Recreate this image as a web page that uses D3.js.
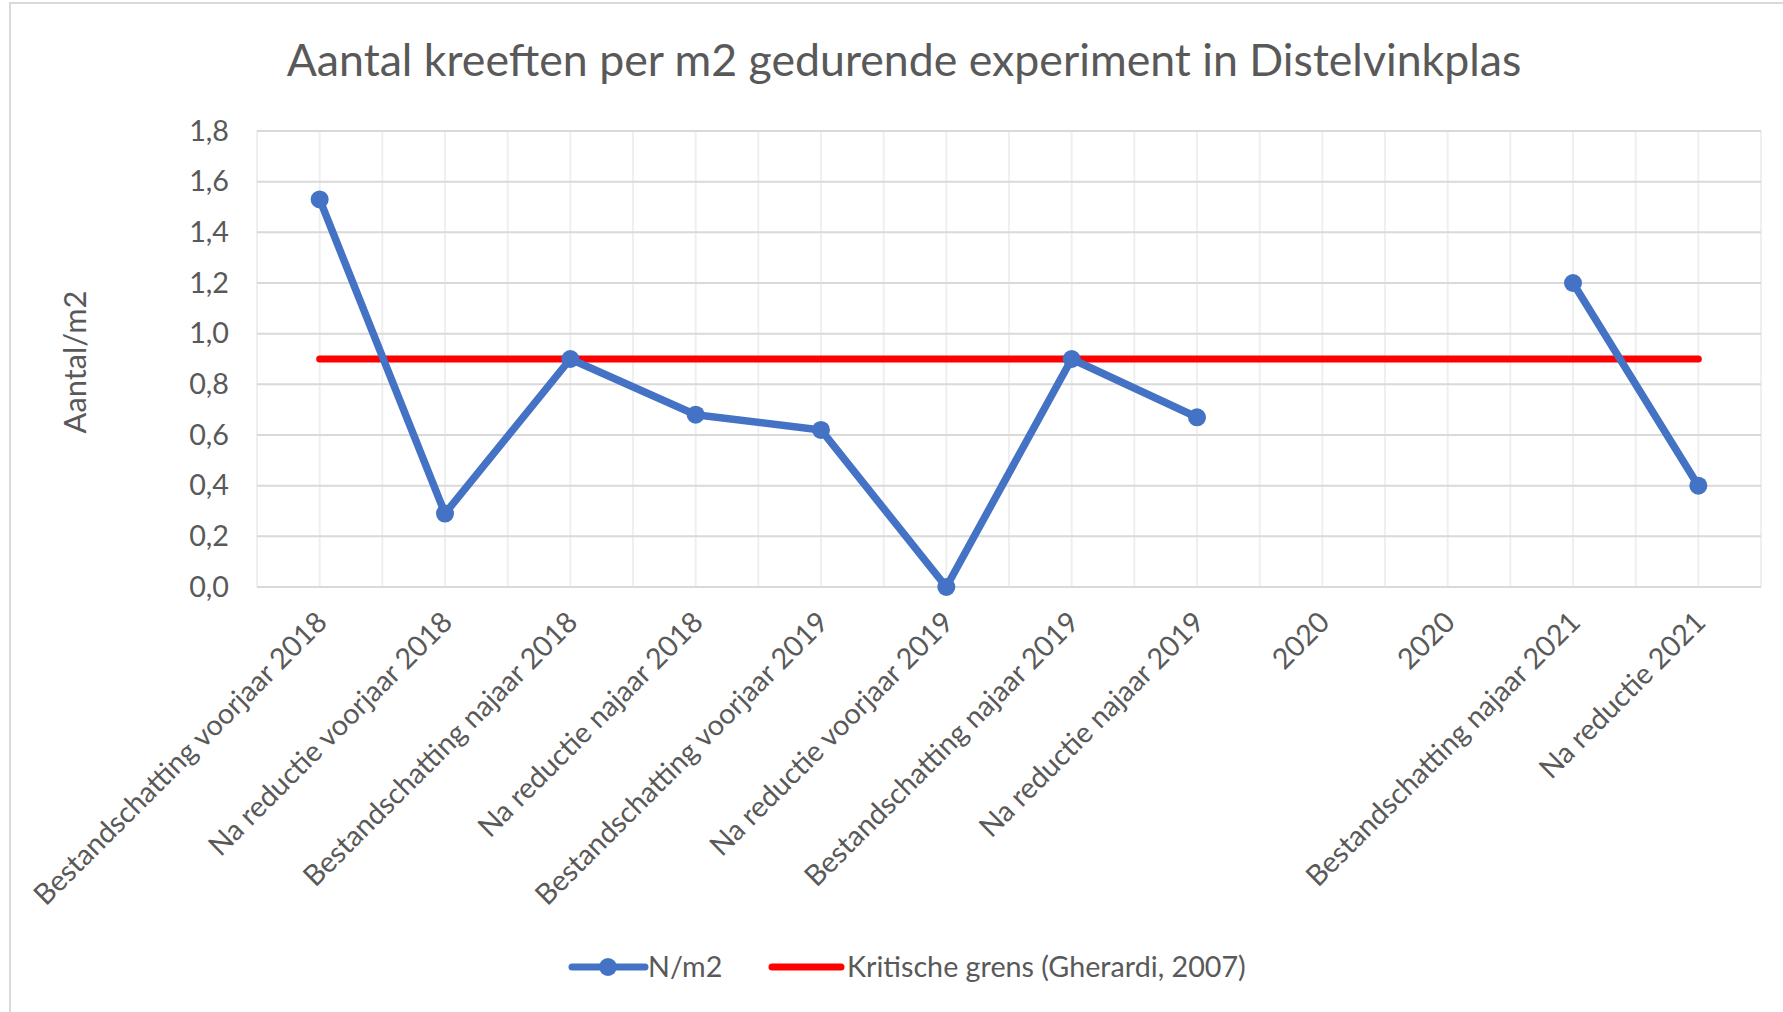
<!DOCTYPE html>
<html>
<head>
<meta charset="utf-8">
<script src="https://cdn.jsdelivr.net/npm/d3@7"></script>
<style>
  body { margin: 0; background: #fff; }
  svg text { font-family: Lato, "Open Sans", sans-serif; fill: #595959; }
</style>
</head>
<body>
<div id="chart"></div>
<script>
// categorieen op de x-as
const categories = [
  "Bestandschatting voorjaar 2018",
  "Na reductie voorjaar 2018",
  "Bestandschatting najaar 2018",
  "Na reductie najaar 2018",
  "Bestandschatting voorjaar 2019",
  "Na reductie voorjaar 2019",
  "Bestandschatting najaar 2019",
  "Na reductie najaar 2019",
  "2020",
  "2020",
  "Bestandschatting najaar 2021",
  "Na reductie 2021"
];
// aantal kreeften per m2 (null = geen meting)
const nPerM2 = [1.53, 0.29, 0.90, 0.68, 0.62, 0.00, 0.90, 0.67, null, null, 1.20, 0.40];
// kritische grens (Gherardi, 2007)
const kritisch = [0.9, 0.9, 0.9, 0.9, 0.9, 0.9, 0.9, 0.9, 0.9, 0.9, 0.9, 0.9];
const yTicks = [0, 0.2, 0.4, 0.6, 0.8, 1.0, 1.2, 1.4, 1.6, 1.8];
const legendLabels = ["N/m2", "Kritische grens (Gherardi, 2007)"];
const titleText = "Aantal kreeften per m2 gedurende experiment in Distelvinkplas";

const W = 1783, H = 1012;
const plotLeft = 257, plotRight = 1761, plotTop = 131, plotBottom = 587;

const svg = d3.select("#chart").append("svg").attr("width", W).attr("height", H);

// rand van de grafiek
svg.append("rect")
  .attr("x", 10).attr("y", 3).attr("width", W + 20).attr("height", H + 20)
  .attr("fill", "#fff").attr("stroke", "#d9d9d9").attr("stroke-width", 2);

const x = d3.scaleBand().domain(d3.range(categories.length)).range([plotLeft, plotRight]).padding(0);
const bw = x.bandwidth();
const cx = i => x(i) + bw / 2;
const y = d3.scaleLinear().domain([0, 1.8]).range([plotBottom, plotTop]);

const nl = d3.formatLocale({ decimal: ",", thousands: ".", grouping: [3], currency: ["€", ""] });
const fmt = nl.format(".1f");

// helper om tekst op een bepaalde breedte te krijgen
function fitWidth(sel, target) {
  const w = sel.node().getComputedTextLength();
  const fs = parseFloat(sel.style("font-size"));
  return fs * target / w;
}

// verticale gridlijnen (grenzen en midden van categorie)
const vLines = [];
categories.forEach((c, i) => { vLines.push(x(i)); vLines.push(cx(i)); });
vLines.push(plotRight);
svg.append("g").selectAll("line").data(vLines).join("line")
  .attr("x1", d => d).attr("x2", d => d)
  .attr("y1", plotTop).attr("y2", plotBottom)
  .attr("stroke", "#efefef").attr("stroke-width", 2);

// horizontale gridlijnen
svg.append("g").selectAll("line").data(yTicks).join("line")
  .attr("x1", plotLeft).attr("x2", plotRight)
  .attr("y1", d => y(d)).attr("y2", d => y(d))
  .attr("stroke", "#d9d9d9").attr("stroke-width", 2);

// maat van de as-teksten bepalen
const probe = svg.append("text").style("font-size", "20px").text(categories[0]);
const tickSize = fitWidth(probe, 400);
probe.text(legendLabels[1]);
const legendSize = fitWidth(probe, 399);
probe.remove();

// y-as
const yAxis = svg.append("g")
  .attr("transform", `translate(${plotLeft},0)`)
  .call(d3.axisLeft(y).tickValues(yTicks).tickFormat(fmt).tickSize(0).tickPadding(28));
yAxis.select(".domain").remove();
yAxis.selectAll("text").style("font-size", tickSize + "px").style("fill", "#595959")
  .style("font-family", "Lato, 'Open Sans', sans-serif");

// x-as
const xAxis = svg.append("g")
  .attr("transform", `translate(0,${plotBottom})`)
  .call(d3.axisBottom(x).tickFormat(i => categories[i]).tickSize(0));
xAxis.select(".domain").remove();
xAxis.selectAll("text")
  .style("font-size", tickSize + "px").style("fill", "#595959")
  .style("font-family", "Lato, 'Open Sans', sans-serif")
  .attr("text-anchor", "end")
  .attr("y", 0).attr("dy", 0)
  .attr("transform", "translate(9,37) rotate(-45)");

// lijnen
const line = d3.line()
  .defined(d => d != null)
  .x((d, i) => cx(i))
  .y(d => y(d));

svg.append("path").datum(kritisch)
  .attr("d", line)
  .attr("fill", "none").attr("stroke", "#ff0000").attr("stroke-width", 7)
  .attr("stroke-linecap", "round");

svg.append("path").datum(nPerM2)
  .attr("d", line)
  .attr("fill", "none").attr("stroke", "#4472c4").attr("stroke-width", 7.5)
  .attr("stroke-linejoin", "round").attr("stroke-linecap", "round");

svg.append("g").selectAll("circle")
  .data(nPerM2.map((v, i) => ({ v, i })).filter(d => d.v != null))
  .join("circle")
  .attr("cx", d => cx(d.i)).attr("cy", d => y(d.v))
  .attr("r", 9).attr("fill", "#4472c4");

// titel
const title = svg.append("text")
  .attr("x", 904).attr("y", 76).attr("text-anchor", "middle")
  .style("font-size", "40px").text(titleText);
title.style("font-size", fitWidth(title, 1235) + "px");

// y-as titel
const yLabel = svg.append("text")
  .attr("transform", "translate(86,362) rotate(-90)")
  .attr("text-anchor", "middle")
  .style("font-size", "26px").text("Aantal/m2");
yLabel.style("font-size", fitWidth(yLabel, 143) + "px");

// legenda
const leg = svg.append("g");
const ly = 967;
leg.append("line").attr("x1", 572).attr("x2", 645).attr("y1", ly).attr("y2", ly)
  .attr("stroke", "#4472c4").attr("stroke-width", 7).attr("stroke-linecap", "round");
leg.append("circle").attr("cx", 608).attr("cy", ly).attr("r", 9).attr("fill", "#4472c4");
leg.append("text").attr("x", 648).attr("y", ly).attr("dy", "0.35em")
  .style("font-size", legendSize + "px").text(legendLabels[0]);
leg.append("line").attr("x1", 772).attr("x2", 841).attr("y1", ly).attr("y2", ly)
  .attr("stroke", "#ff0000").attr("stroke-width", 7).attr("stroke-linecap", "round");
leg.append("text").attr("x", 847).attr("y", ly).attr("dy", "0.35em")
  .style("font-size", legendSize + "px").text(legendLabels[1]);
</script>
</body>
</html>
